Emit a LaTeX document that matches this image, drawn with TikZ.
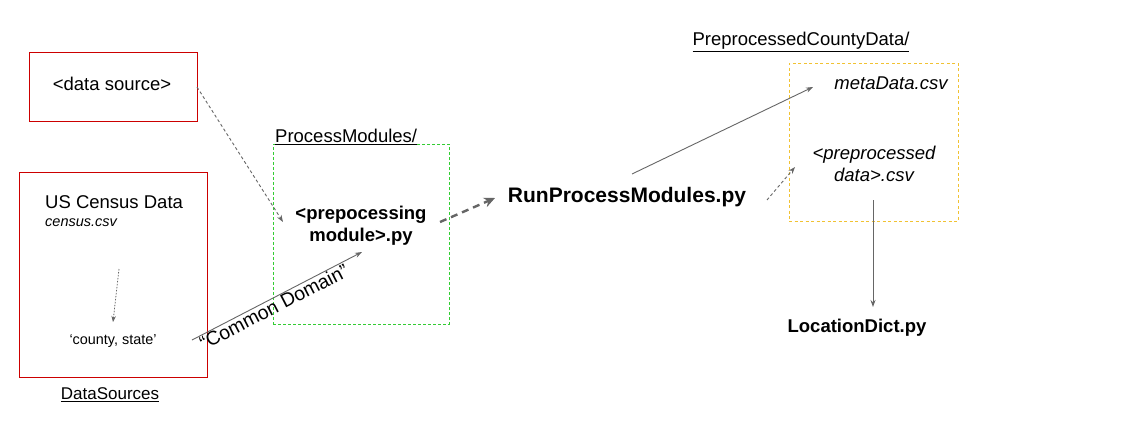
\documentclass[tikz,border=0pt]{standalone}
\usepackage{fontspec}
\setmainfont{Liberation Sans}
\usetikzlibrary{arrows.meta}
\definecolor{boxred}{HTML}{CC0000}
\definecolor{boxgreen}{HTML}{33CC33}
\definecolor{boxorange}{HTML}{F1C232}
\definecolor{arrgray}{HTML}{666666}
\tikzset{
  redbox/.style={draw=boxred, line width=1pt},
  greenbox/.style={draw=boxgreen, line width=0.8pt, dash pattern=on 3pt off 2pt},
  orangebox/.style={draw=boxorange, line width=1pt, dash pattern=on 3pt off 2.5pt},
  txt/.style={inner sep=0pt, font=\fontsize{18.5}{22}\selectfont},
  bold/.style={txt, font=\fontsize{18.5}{22}\selectfont\bfseries, align=center},
  ital/.style={txt, font=\fontsize{18.5}{22}\selectfont\itshape, align=center},
  conn/.style={draw=arrgray, line width=0.9pt, -{Stealth[length=7pt,width=5pt]}},
  fine dashed/.style={conn, dash pattern=on 3pt off 2.5pt},
  thick dashed/.style={draw=arrgray, line width=2.4pt, dash pattern=on 7pt off 5pt, -{Stealth[length=11pt,width=10pt]}},
}
\begin{document}
\begin{tikzpicture}[x=1pt, y=-1pt]
\useasboundingbox (0,0) rectangle (1141,442);
\fill[white] (0,0) rectangle (1141,442);

% Data sources
\node[redbox, minimum width=168pt, minimum height=69pt, inner sep=0pt] (ds) at (113,86.5) {};
\node[txt] (dstext) at (112,83.5) {<data source>};
\node[redbox, minimum width=188pt, minimum height=205pt, inner sep=0pt] (census) at (113,274.5) {};
\node[txt, anchor=west] (cdata) at (45,202) {US Census Data};
\node[txt, anchor=west, font=\fontsize{14.5}{17}\selectfont\itshape] (ccsv) at (45,223) {census.csv};
\node[txt, font=\fontsize{14.4}{17}\selectfont] (county) at (113,341) {‘county, state’};
\node[txt, font=\fontsize{17}{20}\selectfont] (dslabel) at (110,394.5) {\underline{DataSources}};
\coordinate (cstart) at (119,269);
\coordinate (cend) at (113,322);
\draw[conn, line width=0.8pt, dash pattern=on 1.5pt off 1.5pt, -{Stealth[length=6pt,width=4.5pt]}] (cstart) -- (cend);

% Process modules
\node[greenbox, minimum width=176pt, minimum height=180pt, inner sep=0pt] (pm) at (361,234) {};
\node[txt, anchor=west] (pmlabel) at (275,137) {\underline{ProcessModules/}};
\node[bold] (prep) at (361,226) {<prepocessing\\module>.py};

% Run
\node[txt, font=\fontsize{21}{25}\selectfont\bfseries] (run) at (627,197) {RunProcessModules.py};

% Preprocessed county data
\node[orangebox, minimum width=169pt, minimum height=158pt, inner sep=0pt] (pcd) at (873.5,142) {};
\node[txt] (pcdlabel) at (801,42) {\underline{PreprocessedCountyData/}};
\node[ital] (meta) at (891,83) {metaData.csv};
\node[ital] (pdata) at (874,164) {<preprocessed\\data>.csv};
\node[bold] (loc) at (857,328) {LocationDict.py};

% Connectors
\coordinate (a1s) at (197,87);
\coordinate (a1e) at (283,222);
\draw[fine dashed] (a1s) -- (a1e);

\coordinate (a2s) at (192,340);
\coordinate (a2e) at (362,252);
\draw[conn] (a2s) -- node[pos=0.46, sloped, below=0.5pt, txt, font=\fontsize{19.5}{22}\selectfont, text=black] (cd) {“Common Domain”} (a2e);

\coordinate (a3s) at (440,222);
\coordinate (a3e) at (495,198);
\draw[thick dashed] (a3s) -- (a3e);

\coordinate (a4s) at (632,174);
\coordinate (a4e) at (813,87);
\draw[conn] (a4s) -- (a4e);

\coordinate (a5s) at (767,200);
\coordinate (a5e) at (795,167);
\draw[fine dashed] (a5s) -- (a5e);

\coordinate (a6s) at (873,200);
\coordinate (a6e) at (873,307);
\draw[conn] (a6s) -- (a6e);
\end{tikzpicture}
\end{document}
